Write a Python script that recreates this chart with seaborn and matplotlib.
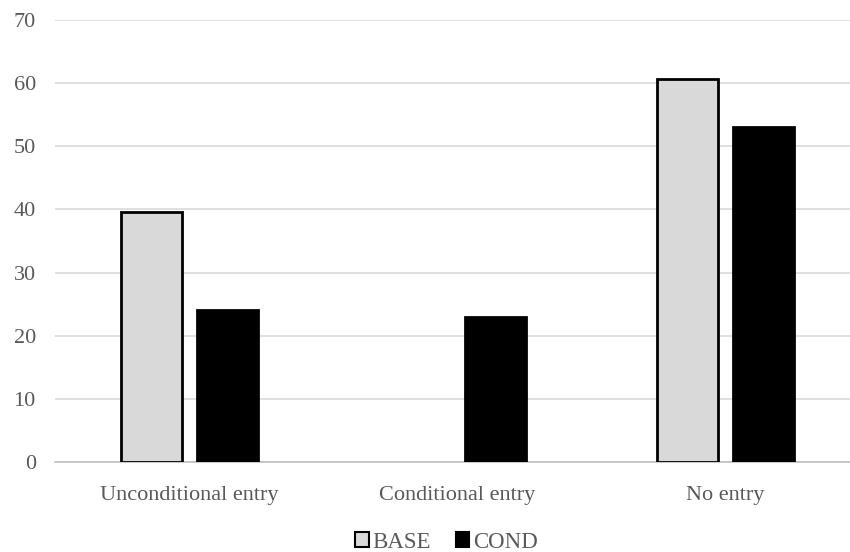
import pandas as pd
import matplotlib.pyplot as plt
import seaborn as sns

categories = ["Unconditional entry", "Conditional entry", "No entry"]
base_values = [39.6, 0.0, 60.7]
cond_values = [24.0, 23.0, 53.0]

df = pd.DataFrame({
    "category": categories * 2,
    "group": ["BASE"] * 3 + ["COND"] * 3,
    "value": base_values + cond_values,
})

sns.set_style("white")
plt.rcParams['font.family'] = ['Liberation Serif', 'DejaVu Serif']

fig = plt.figure(figsize=(8.5, 5.52), dpi=100)
ax = fig.add_axes([0.065, 0.163, 0.946, 0.801])

sns.barplot(data=df, x="category", y="value", hue="group",
            palette={"BASE": "#D9D9D9", "COND": "#000000"},
            width=0.567, gap=0.2, edgecolor="black", linewidth=2,
            ax=ax, zorder=3)

# hide the zero-height bar outline
for p in ax.patches:
    if p.get_height() == 0:
        p.set_linewidth(0)

ax.set_ylim(0, 70)
ax.set_yticks(range(0, 71, 10))
ax.set_xlim(-0.5, 2.5)
ax.grid(axis="y", color="#D9D9D9", linewidth=1.2, zorder=0)
ax.set_xlabel("")
ax.set_ylabel("")
for s in ["top", "right", "left"]:
    ax.spines[s].set_visible(False)
ax.spines["bottom"].set_color("#BFBFBF")
ax.spines["bottom"].set_linewidth(1.2)
ax.tick_params(axis="both", length=0, labelsize=16, labelcolor="#595959")
ax.tick_params(axis="x", pad=17)
ax.tick_params(axis="y", pad=14)

handles, labels = ax.get_legend_handles_labels()
for h in handles:
    h.set_edgecolor("black")
    h.set_linewidth(1.5)
ax.legend(handles, labels, loc="center", bbox_to_anchor=(0.525, 0.018),
          bbox_transform=fig.transFigure,
          ncol=2, frameon=False, fontsize=16.5, handlelength=0.6, handleheight=0.6,
          handletextpad=0.15, columnspacing=1.1, labelcolor="#595959")

fig.savefig("out.png", dpi=100)
